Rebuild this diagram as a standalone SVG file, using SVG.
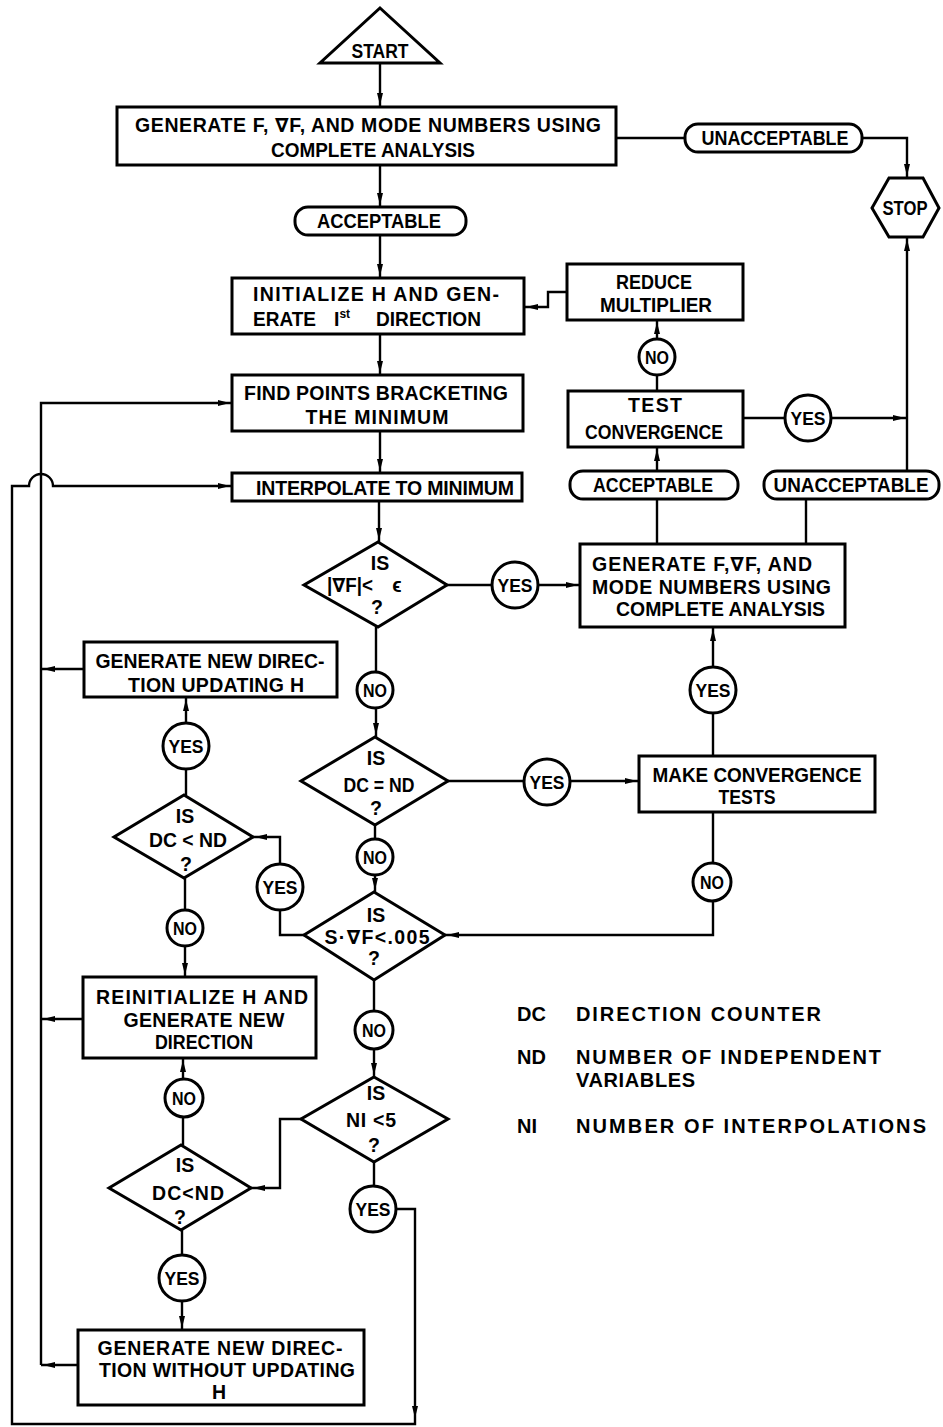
<svg xmlns="http://www.w3.org/2000/svg" width="943" height="1427" viewBox="0 0 943 1427">
<style>
.s{fill:#fff;stroke:#000;stroke-width:3}
.c{fill:none;stroke:#000;stroke-width:2.4}
.a{marker-end:url(#ah)}
text{font-family:"Liberation Sans","DejaVu Sans",Arial,sans-serif;font-weight:bold;font-size:19.5px;text-anchor:middle;fill:#000}
.l{text-anchor:start}
.yn{font-size:19px}
.lg{font-size:20px;text-anchor:start}
</style>
<defs>
<marker id="ah" markerWidth="14" markerHeight="8" refX="14" refY="4" orient="auto" markerUnits="userSpaceOnUse"><path d="M0,1 L12,4 L0,7 Z" fill="#000"/></marker>
</defs>
<rect width="943" height="1427" fill="#fff"/>
<g id="connectors">
<path class="c a" d="M380,63 V107"/>
<path class="c a" d="M380,165 V207"/>
<path class="c a" d="M380,235 V278"/>
<path class="c" d="M616,138 H685"/>
<path class="c a" d="M862,138 H907 V178"/>
<path class="c a" d="M907,471 V237"/>
<path class="c a" d="M743,418 H907"/>
<path class="c a" d="M657,391 V320"/>
<path class="c a" d="M567,292 H548 V307 H524"/>
<path class="c a" d="M380,334 V375"/>
<path class="c a" d="M380,431 V473"/>
<path class="c a" d="M379,501 V542"/>
<path class="c a" d="M447,585 H580"/>
<path class="c" d="M657,544 V499"/>
<path class="c a" d="M657,471 V447"/>
<path class="c" d="M806,544 V499"/>
<path class="c a" d="M376,627 V737"/>
<path class="c a" d="M448,781 H639"/>
<path class="c a" d="M713,756 V627"/>
<path class="c a" d="M713,812 V935 H445"/>
<path class="c a" d="M375,825 V892"/>
<path class="c a" d="M304,935 H280 V837 H253"/>
<path class="c a" d="M186,795 V697"/>
<path class="c a" d="M185,878 V977"/>
<path class="c a" d="M84,669 H41"/>
<path class="c a" d="M83,1019 H41"/>
<path class="c a" d="M78,1365 H41"/>
<path class="c a" d="M41,1365 V403 H232"/>
<path class="c a" d="M374,980 V1077"/>
<path class="c a" d="M301,1119 H280 V1188 H251"/>
<path class="c a" d="M182,1230 V1330"/>
<path class="c a" d="M183,1145 V1058"/>
<path class="c a" d="M374,1162 V1209 H415 V1420"/>
<path class="c a" d="M415,1420 V1424 H12 V486 H29 A12,12 0 0 1 53,486 H232"/>
</g>
<g id="start"><polygon class="s" points="380,8 440,63 320,63"/><text x="380" y="58" textLength="57" lengthAdjust="spacingAndGlyphs">START</text></g>
<g id="gen1"><rect class="s" x="117" y="107" width="499" height="58"/>
<text x="368" y="132" textLength="466" lengthAdjust="spacing">GENERATE F, ∇F, AND MODE NUMBERS USING</text>
<text x="373" y="157" textLength="204" lengthAdjust="spacingAndGlyphs">COMPLETE ANALYSIS</text></g>
<g id="unacc1"><rect class="s" x="685" y="124" width="177" height="28" rx="13"/><text x="775" y="145" textLength="147" lengthAdjust="spacingAndGlyphs">UNACCEPTABLE</text></g>
<g id="stop"><polygon class="s" points="889,178 923,178 939,208 923,237 889,237 872,208"/><text x="905" y="215" textLength="45" lengthAdjust="spacingAndGlyphs">STOP</text></g>
<g id="acc1"><rect class="s" x="295" y="207" width="171" height="28" rx="13"/><text x="379" y="228" textLength="124" lengthAdjust="spacingAndGlyphs">ACCEPTABLE</text></g>
<g id="init"><rect class="s" x="232" y="278" width="292" height="56"/>
<text class="l" x="253" y="301" textLength="246" lengthAdjust="spacing">INITIALIZE H AND GEN-</text>
<text class="l" x="253" y="326" textLength="63" lengthAdjust="spacingAndGlyphs">ERATE</text>
<text class="l" x="334" y="326">I<tspan font-size="12" dy="-8">st</tspan></text>
<text class="l" x="376" y="326" textLength="105" lengthAdjust="spacingAndGlyphs">DIRECTION</text></g>
<g id="reduce"><rect class="s" x="567" y="264" width="176" height="56"/><text x="654" y="289" textLength="76" lengthAdjust="spacingAndGlyphs">REDUCE</text><text x="656" y="312" textLength="112" lengthAdjust="spacingAndGlyphs">MULTIPLIER</text></g>
<g id="no1"><circle class="s" cx="657" cy="357" r="18"/><text class="yn" x="657" y="364" textLength="24" lengthAdjust="spacingAndGlyphs">NO</text></g>
<g id="test"><rect class="s" x="568" y="391" width="175" height="56"/><text x="655" y="412" textLength="54" lengthAdjust="spacing">TEST</text><text x="654" y="439" textLength="138" lengthAdjust="spacingAndGlyphs">CONVERGENCE</text></g>
<g id="yes1"><circle class="s" cx="808" cy="418" r="23"/><text class="yn" x="808" y="425" textLength="35" lengthAdjust="spacingAndGlyphs">YES</text></g>
<g id="find"><rect class="s" x="232" y="375" width="291" height="56"/>
<text x="376" y="400" textLength="264" lengthAdjust="spacing">FIND POINTS BRACKETING</text>
<text x="377" y="424" textLength="143" lengthAdjust="spacing">THE MINIMUM</text></g>
<g id="interp"><rect class="s" x="232" y="473" width="290" height="28"/><text x="385" y="494.5" textLength="258" lengthAdjust="spacing">INTERPOLATE TO MINIMUM</text></g>
<g id="acc2"><rect class="s" x="570" y="471" width="168" height="28" rx="13"/><text x="653" y="492" textLength="120" lengthAdjust="spacingAndGlyphs">ACCEPTABLE</text></g>
<g id="unacc2"><rect class="s" x="764" y="471" width="175" height="28" rx="13"/><text x="851" y="492" textLength="155" lengthAdjust="spacingAndGlyphs">UNACCEPTABLE</text></g>
<g id="d1"><polygon class="s" points="378,542 447,585 378,627 304,585"/>
<text x="380" y="570">IS</text>
<text class="l" x="327" y="592" textLength="46" lengthAdjust="spacingAndGlyphs">|∇F|&lt;</text>
<text x="397" y="592" font-size="22">ϵ</text>
<text x="377" y="614">?</text></g>
<g id="yes2"><circle class="s" cx="515" cy="585" r="23"/><text class="yn" x="515" y="592" textLength="35" lengthAdjust="spacingAndGlyphs">YES</text></g>
<g id="gen2"><rect class="s" x="580" y="544" width="265" height="83"/>
<text class="l" x="592" y="571" textLength="220" lengthAdjust="spacing">GENERATE F,∇F, AND</text>
<text class="l" x="592" y="594" textLength="239" lengthAdjust="spacing">MODE NUMBERS USING</text>
<text class="l" x="616" y="616" textLength="209" lengthAdjust="spacingAndGlyphs">COMPLETE ANALYSIS</text></g>
<g id="gnd1"><rect class="s" x="84" y="642" width="253" height="55"/>
<text x="210" y="668" textLength="229" lengthAdjust="spacingAndGlyphs">GENERATE NEW DIREC-</text>
<text x="216" y="692" textLength="176" lengthAdjust="spacing">TION UPDATING H</text></g>
<g id="no2"><circle class="s" cx="375" cy="690" r="18"/><text class="yn" x="375" y="697" textLength="24" lengthAdjust="spacingAndGlyphs">NO</text></g>
<g id="yes3"><circle class="s" cx="713" cy="690" r="23"/><text class="yn" x="713" y="697" textLength="35" lengthAdjust="spacingAndGlyphs">YES</text></g>
<g id="yes4"><circle class="s" cx="186" cy="746" r="23"/><text class="yn" x="186" y="753" textLength="35" lengthAdjust="spacingAndGlyphs">YES</text></g>
<g id="d2"><polygon class="s" points="375,737 448,781 375,825 301,781"/>
<text x="376" y="765">IS</text>
<text x="379" y="792" textLength="71" lengthAdjust="spacingAndGlyphs">DC = ND</text>
<text x="376" y="815">?</text></g>
<g id="yes5"><circle class="s" cx="547" cy="782" r="23"/><text class="yn" x="547" y="789" textLength="35" lengthAdjust="spacingAndGlyphs">YES</text></g>
<g id="make"><rect class="s" x="639" y="756" width="236" height="56"/>
<text x="757" y="782" textLength="209" lengthAdjust="spacingAndGlyphs">MAKE CONVERGENCE</text>
<text x="747" y="804" textLength="57" lengthAdjust="spacingAndGlyphs">TESTS</text></g>
<g id="d3"><polygon class="s" points="184,795 253,837 184,878 114,837"/>
<text x="185" y="823">IS</text>
<text x="188" y="847" textLength="78" lengthAdjust="spacingAndGlyphs">DC &lt; ND</text>
<text x="186" y="871">?</text></g>
<g id="no3"><circle class="s" cx="375" cy="857" r="18"/><text class="yn" x="375" y="864" textLength="24" lengthAdjust="spacingAndGlyphs">NO</text></g>
<g id="yes6"><circle class="s" cx="280" cy="887" r="23"/><text class="yn" x="280" y="894" textLength="35" lengthAdjust="spacingAndGlyphs">YES</text></g>
<g id="no4"><circle class="s" cx="712" cy="882" r="19"/><text class="yn" x="712" y="889" textLength="24" lengthAdjust="spacingAndGlyphs">NO</text></g>
<g id="d4"><polygon class="s" points="374,892 445,935 374,980 304,935"/>
<text x="376" y="922">IS</text>
<text x="377" y="944" textLength="105" lengthAdjust="spacing">S·∇F&lt;.005</text>
<text x="374" y="965">?</text></g>
<g id="no5"><circle class="s" cx="185" cy="928" r="18"/><text class="yn" x="185" y="935" textLength="24" lengthAdjust="spacingAndGlyphs">NO</text></g>
<g id="reinit"><rect class="s" x="83" y="977" width="233" height="81"/>
<text x="202" y="1004" textLength="212" lengthAdjust="spacing">REINITIALIZE H AND</text>
<text x="204" y="1027" textLength="161" lengthAdjust="spacing">GENERATE NEW</text>
<text x="204" y="1049" textLength="98" lengthAdjust="spacingAndGlyphs">DIRECTION</text></g>
<g id="no6"><circle class="s" cx="374" cy="1030" r="19"/><text class="yn" x="374" y="1037" textLength="24" lengthAdjust="spacingAndGlyphs">NO</text></g>
<g id="no7"><circle class="s" cx="184" cy="1098" r="19"/><text class="yn" x="184" y="1105" textLength="24" lengthAdjust="spacingAndGlyphs">NO</text></g>
<g id="d5"><polygon class="s" points="374,1077 448,1119 374,1162 301,1119"/>
<text x="376" y="1100">IS</text>
<text x="371" y="1127" textLength="50" lengthAdjust="spacing">NI &lt;5</text>
<text x="374" y="1152">?</text></g>
<g id="d6"><polygon class="s" points="181,1145 251,1188 181,1230 109,1188"/>
<text x="185" y="1172">IS</text>
<text x="188" y="1200" textLength="72" lengthAdjust="spacing">DC&lt;ND</text>
<text x="180" y="1224">?</text></g>
<g id="yes7"><circle class="s" cx="373" cy="1209" r="23"/><text class="yn" x="373" y="1216" textLength="35" lengthAdjust="spacingAndGlyphs">YES</text></g>
<g id="yes8"><circle class="s" cx="182" cy="1278" r="23"/><text class="yn" x="182" y="1285" textLength="35" lengthAdjust="spacingAndGlyphs">YES</text></g>
<g id="gnd2"><rect class="s" x="78" y="1330" width="286" height="75"/>
<text x="220" y="1355" textLength="245" lengthAdjust="spacing">GENERATE NEW DIREC-</text>
<text x="227" y="1377" textLength="256" lengthAdjust="spacing">TION WITHOUT UPDATING</text>
<text x="219" y="1399">H</text></g>
<g id="legend">
<text class="lg" x="517" y="1021">DC</text><text class="lg" x="576" y="1021" textLength="245" lengthAdjust="spacing">DIRECTION COUNTER</text>
<text class="lg" x="517" y="1064">ND</text><text class="lg" x="576" y="1064" textLength="305" lengthAdjust="spacing">NUMBER OF INDEPENDENT</text>
<text class="lg" x="576" y="1087" textLength="119" lengthAdjust="spacing">VARIABLES</text>
<text class="lg" x="517" y="1133">NI</text><text class="lg" x="576" y="1133" textLength="350" lengthAdjust="spacing">NUMBER OF INTERPOLATIONS</text>
</g>
</svg>
